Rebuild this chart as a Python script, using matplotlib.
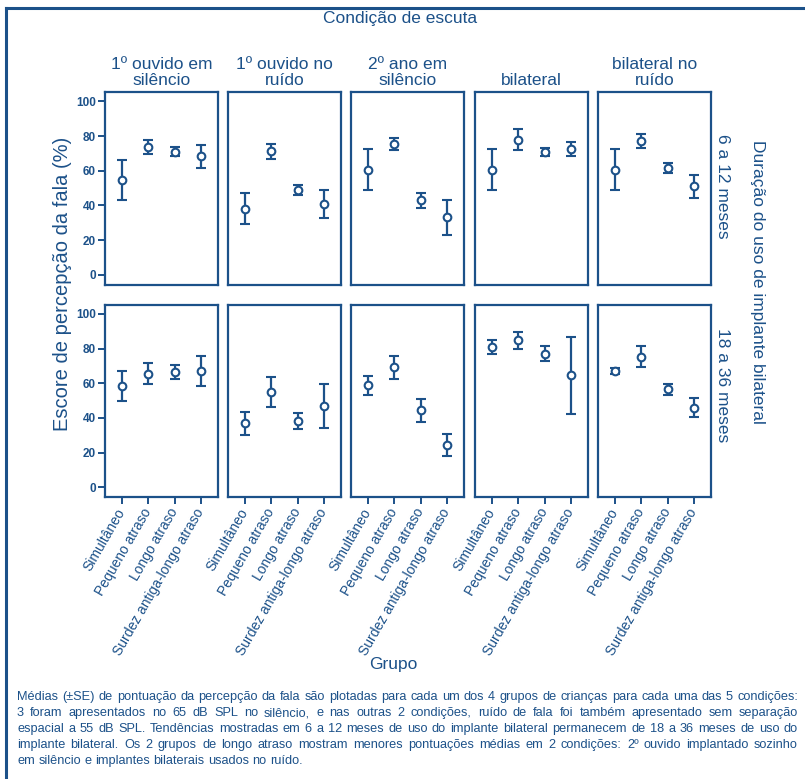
import matplotlib
matplotlib.use("Agg")
import matplotlib.pyplot as plt
from matplotlib.lines import Line2D
import numpy as np

# ---------------- data ----------------
groups = ["Simultâneo", "Pequeno atraso", "Longo atraso", "Surdez antiga-longo atraso"]
conditions = ["1º ouvido em\nsilêncio", "1º ouvido no\nruído", "2º ano em\nsilêncio",
              "bilateral", "bilateral no\nruído"]
durations = ["6 a 12 meses", "18 a 36 meses"]
yticks = [0, 20, 40, 60, 80, 100]

# means and SE, row 6-12 months (one list per condition, 4 groups each)
mean_6_12_c1 = [54.8, 73.7, 71.0, 68.3]
se_6_12_c1 = [11.5, 4.2, 2.6, 6.8]
mean_6_12_c2 = [38.1, 71.2, 48.7, 40.6]
se_6_12_c2 = [9.0, 4.2, 2.9, 8.1]
mean_6_12_c3 = [60.6, 75.6, 42.9, 33.3]
se_6_12_c3 = [11.7, 3.4, 4.2, 10.1]
mean_6_12_c4 = [60.6, 77.9, 70.8, 72.7]
se_6_12_c4 = [11.7, 6.2, 2.5, 4.0]
mean_6_12_c5 = [60.6, 77.1, 61.5, 51.0]
se_6_12_c5 = [11.7, 4.0, 2.7, 6.8]

# row 18-36 months
mean_18_36_c1 = [58.4, 65.5, 66.5, 67.0]
se_18_36_c1 = [8.6, 6.0, 3.9, 8.8]
mean_18_36_c2 = [36.8, 55.0, 38.3, 46.9]
se_18_36_c2 = [6.9, 8.5, 4.6, 12.5]
mean_18_36_c3 = [58.8, 69.3, 44.4, 24.5]
se_18_36_c3 = [5.4, 6.6, 6.5, 6.4]
mean_18_36_c4 = [80.8, 84.7, 77.0, 64.6]
se_18_36_c4 = [4.2, 5.0, 4.2, 22.3]
mean_18_36_c5 = [66.9, 75.3, 56.5, 46.0]
se_18_36_c5 = [1.7, 5.9, 3.1, 5.6]

means = [[mean_6_12_c1, mean_6_12_c2, mean_6_12_c3, mean_6_12_c4, mean_6_12_c5],
         [mean_18_36_c1, mean_18_36_c2, mean_18_36_c3, mean_18_36_c4, mean_18_36_c5]]
ses = [[se_6_12_c1, se_6_12_c2, se_6_12_c3, se_6_12_c4, se_6_12_c5],
       [se_18_36_c1, se_18_36_c2, se_18_36_c3, se_18_36_c4, se_18_36_c5]]

caption_lines = [
    "Médias (±SE) de pontuação da percepção da fala são plotadas para cada um dos 4 grupos de crianças para cada uma das 5 condições:",
    "3 foram apresentados no 65 dB SPL no silêncio, e nas outras 2 condições, ruído de fala foi também apresentado sem separação",
    "espacial a 55 dB SPL. Tendências mostradas em 6 a 12 meses de uso do implante bilateral permanecem de 18 a 36 meses de uso do",
    "implante bilateral. Os 2 grupos de longo atraso mostram menores pontuações médias em 2 condições: 2º ouvido implantado sozinho",
    "em silêncio e implantes bilaterais usados no ruído.",
]

# ---------------- style ----------------
C = "#1c5189"
plt.rcParams["font.family"] = ["Liberation Sans", "DejaVu Sans"]
W, H = 805, 779
fig = plt.figure(figsize=(W / 100, H / 100), dpi=100)

def fx(x):
    return x / W

def fy(y):
    return 1 - y / H

col_left = [105, 228, 351, 475, 598]
pw = 113
row_top = [92, 304.5]
ph = 192.5

x = np.arange(1, 5)
for r in range(2):
    for c in range(5):
        ax = fig.add_axes([fx(col_left[c]), fy(row_top[r] + ph), pw / W, ph / H])
        ax.errorbar(x, means[r][c], yerr=ses[r][c], fmt="o", color=C, ecolor=C,
                    elinewidth=1.6, capsize=3.5, capthick=1.6, markersize=5.5,
                    markerfacecolor="white", markeredgecolor=C, markeredgewidth=1.5)
        ax.set_xlim(0.35, 4.65)
        ax.set_ylim(-5.6, 105.4)
        for s in ax.spines.values():
            s.set_color(C)
            s.set_linewidth(1.6)
        ax.tick_params(colors=C, width=1.4, length=5, direction="out")
        if c == 0:
            ax.set_yticks(yticks)
            ax.set_yticklabels([str(v) for v in yticks], fontsize=8.5,
                               fontweight="bold", color=C)
            ax.tick_params(axis="y", pad=1.5)
        else:
            ax.set_yticks([])
        if r == 1:
            ax.set_xticks(x)
            ax.set_xticklabels(groups, rotation=60, ha="right", va="center",
                               rotation_mode="anchor", fontsize=10, color=C)
            ax.tick_params(axis="x", pad=4)
        else:
            ax.set_xticks([])
        if r == 0:
            ax.set_title(conditions[c], fontsize=12.5, color=C, pad=5,
                         linespacing=1.05)

# outer titles
fig.text(fx(400), fy(19), "Condição de escuta", ha="center", va="center",
         fontsize=12.5, color=C)
fig.text(fx(722), fy(186), durations[0], rotation=270, ha="center", va="center",
         fontsize=12.5, color=C)
fig.text(fx(722), fy(385), durations[1], rotation=270, ha="center", va="center",
         fontsize=12.5, color=C)
fig.text(fx(757), fy(282), "Duração do uso de implante bilateral", rotation=270,
         ha="center", va="center", fontsize=12.5, color=C)
fig.text(fx(62), fy(284), "Escore de percepção da fala (%)", rotation=90,
         ha="center", va="center", fontsize=14.5, color=C)
fig.text(fx(393), fy(664), "Grupo", ha="center", va="center", fontsize=12.5, color=C)

# frame lines
fig.add_artist(Line2D([fx(6), fx(6)], [fy(8), fy(779)], color=C, lw=2.2,
                      transform=fig.transFigure))
fig.add_artist(Line2D([fx(6), fx(805)], [fy(8), fy(8)], color=C, lw=2.2,
                      transform=fig.transFigure))

# justified caption
renderer = fig.canvas.get_renderer()
x0, x1 = 17, 798
cap_y = [697, 713, 729, 745, 761]

def natural_width(s, size):
    t = fig.text(0, 0, s, fontsize=size)
    w = t.get_window_extent(renderer).width
    t.remove()
    return w

base = 10.5
cap_size = min(base * (x1 - x0) / natural_width(l, base) for l in caption_lines[:-1])
cap_size = min(cap_size, base)
spw = natural_width("a a", cap_size) - natural_width("aa", cap_size)

for i, line in enumerate(caption_lines):
    words = line.split(" ")
    objs = [fig.text(0, fy(cap_y[i]), w, ha="left", va="center", fontsize=cap_size,
                     color=C) for w in words]
    widths = [o.get_window_extent(renderer).width for o in objs]
    if i < len(caption_lines) - 1:
        gap = (x1 - x0 - sum(widths)) / (len(words) - 1)
    else:
        gap = spw
    xp = x0
    for o, wdt in zip(objs, widths):
        o.set_x(fx(xp))
        xp += wdt + gap

fig.savefig("out.png", dpi=100)
